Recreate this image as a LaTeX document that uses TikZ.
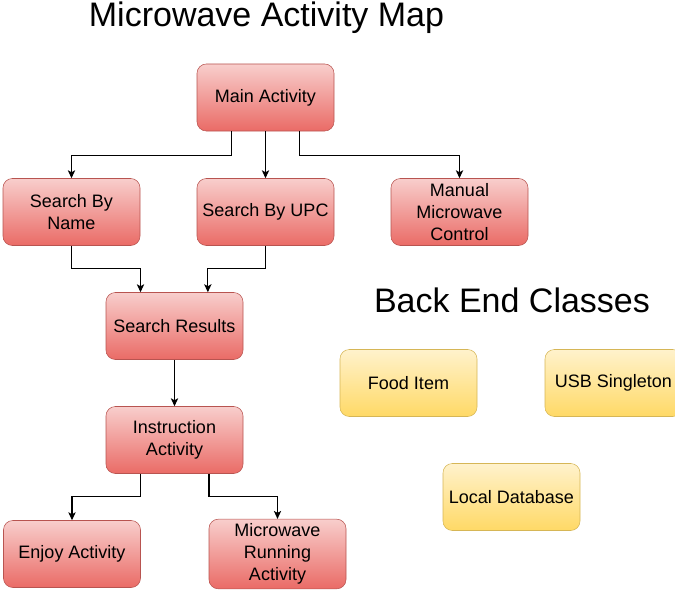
\documentclass[tikz,border=0pt]{standalone}
\usepackage{fontspec}
\setmainfont{Liberation Sans}
\usetikzlibrary{arrows.meta}

\definecolor{redtop}{HTML}{F8CECC}
\definecolor{redbot}{HTML}{EA6B66}
\definecolor{redline}{HTML}{B85450}
\definecolor{yeltop}{HTML}{FFF2CC}
\definecolor{yelbot}{HTML}{FFD966}
\definecolor{yelline}{HTML}{D6B656}

\begin{document}
\begin{tikzpicture}[x=0.75pt,y=-0.75pt,>={Stealth[length=6pt,width=5.5pt,inset=1.5pt]}]

  \tikzstyle{activity}=[rectangle,rounded corners=7pt,draw=redline,
    top color=redtop,bottom color=redbot,align=center,
    minimum height=50.25pt,minimum width=102.75pt,
    font=\fontsize{13.5}{16.5}\selectfont]
  \tikzstyle{backend}=[rectangle,rounded corners=7pt,draw=yelline,
    top color=yeltop,bottom color=yelbot,align=center,
    minimum height=50.25pt,minimum width=102.75pt,
    font=\fontsize{13.5}{16.5}\selectfont]
  \tikzstyle{heading}=[font=\fontsize{25.5}{30}\selectfont]
  \tikzstyle{link}=[->,line width=0.8pt]

  \useasboundingbox (0,0) rectangle (675,592);

  %% \draw [help lines,step=50] (0,0) grid (675,592);

  \node  (title)  at (266.5,18)  [heading]  {Microwave Activity Map};
  \node  (btitle) at (512,300)   [heading]  {Back End Classes};

  \node  (main)   at (265.5,97.5) [activity] {Main Activity};
  \node  (sbn)    at (71.5,212)   [activity] {Search By\\Name};
  \node  (upc)    at (265.5,212)  [activity] {Search By UPC};
  \node  (manual) at (459.5,212)  [activity] {Manual\\Microwave\\Control};
  \node  (res)    at (174.5,326)  [activity] {Search Results};
  \node  (instr)  at (174.5,440)  [activity] {Instruction\\Activity};
  \node  (enjoy)  at (72,554)     [activity] {Enjoy Activity};
  \node  (run)    at (277.5,554)  [activity] {Microwave\\Running\\Activity};

  \node  (food)   at (408.5,383)  [backend]  {Food Item};
  \node  (usb)    at (613.5,383)  [backend]  {USB Singleton};
  \node  (db)     at (511.5,497)  [backend]  {Local Database};

  \draw [link] (main.south) ++(-34,0) -- ++(0,24) -| (sbn.north);
  \draw [link] (main) -- (upc);
  \draw [link] (main.south) ++(34,0) -- ++(0,24) -| (manual.north);
  \draw [link] (sbn.south) -- ++(0,23) -| ([xshift=-25.5]res.north);
  \draw [link] (upc.south) -- ++(0,23) -| ([xshift=25]res.north);
  \draw [link] (res) -- (instr);
  \draw [link] (instr.south) ++(-34,0) -- ++(0,23) -| (enjoy.north);
  \draw [link] (instr.south) ++(34.5,0) -- ++(0,23) -| (run.north);
\end{tikzpicture}
\end{document}
